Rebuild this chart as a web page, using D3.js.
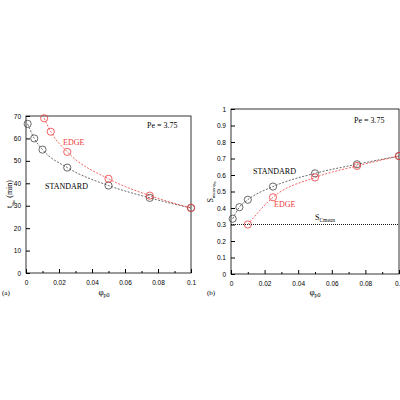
<!DOCTYPE html>
<html><head><meta charset="utf-8">
<script src="https://cdn.jsdelivr.net/npm/d3@7/dist/d3.min.js"></script>
<style>body{margin:0;background:#fff}svg{display:block;font-family:"Liberation Serif","DejaVu Serif",serif}</style>
</head><body><svg id="c" width="400" height="400"></svg>
<script>
// panel (a): t_phi_m (min) vs phi_p0
const aStdX = [0.001, 0.005, 0.01, 0.025, 0.05, 0.075, 0.1];
const aStdY = [66.5, 60, 55, 47, 39, 33.5, 29];
const aEdgeX = [0.011, 0.015, 0.025, 0.05, 0.075, 0.1];
const aEdgeY = [69, 63, 54, 42, 34.5, 29];
// panel (b): S_mean vs phi_p0
const bStdX = [0.001, 0.005, 0.01, 0.025, 0.05, 0.075, 0.1];
const bStdY = [0.335, 0.405, 0.45, 0.53, 0.61, 0.665, 0.715];
const bEdgeX = [0.01, 0.025, 0.05, 0.075, 0.1];
const bEdgeY = [0.3, 0.465, 0.585, 0.655, 0.715];
const sCmean = 0.3;
const xTicks = [0, 0.02, 0.04, 0.06, 0.08, 0.1];
const aYTicks = [0, 10, 20, 30, 40, 50, 60, 70];
const bYTicks = [0, 0.1, 0.2, 0.3, 0.4, 0.5, 0.6, 0.7, 0.8, 0.9, 1];

const svg = d3.select('#c');
const RED = '#f03a3a', GREY = '#444';
const zip = (xs, ys) => xs.map((x, i) => [x, ys[i]]);

function panel(o) {
  const x = d3.scaleLinear().domain([0, 0.1]).range([o.x0, o.x1]);
  const y = d3.scaleLinear().domain(o.yd).range([o.y0, o.y1]);
  const g = svg.append('g');
  g.append('rect').attr('x', o.x0).attr('y', o.y1).attr('width', o.x1 - o.x0).attr('height', o.y0 - o.y1)
    .attr('fill', 'none').attr('stroke', '#000').attr('stroke-width', 0.8);
  const fmt = (v) => String(+v.toFixed(2));
  g.append('g').attr('transform', `translate(0,${o.y0})`)
    .call(d3.axisBottom(x).tickValues(xTicks).tickSize(-4).tickFormat(fmt))
    .call((s) => { s.select('.domain').remove(); s.selectAll('text').attr('font-size', 6.5).attr('dy', 9).attr('font-family', 'inherit'); });
  g.append('g').attr('transform', `translate(0,${o.y0})`)
    .call(d3.axisBottom(x).tickValues(d3.range(0.01, 0.1, 0.02)).tickSize(-2).tickFormat(''))
    .call((s) => s.select('.domain').remove());
  g.append('g').attr('transform', `translate(${o.x0},0)`)
    .call(d3.axisLeft(y).tickValues(o.yt).tickSize(-4).tickFormat(fmt))
    .call((s) => { s.select('.domain').remove(); s.selectAll('text').attr('font-size', 6.5).attr('dx', -2).attr('font-family', 'inherit'); });
  const line = d3.line().x((d) => x(d[0])).y((d) => y(d[1])).curve(d3.curveMonotoneX);
  o.series.forEach((s) => {
    const pts = zip(s.xs, s.ys);
    g.append('path').attr('d', line(pts)).attr('fill', 'none').attr('stroke', s.c)
      .attr('stroke-width', 0.8).attr('stroke-dasharray', '2,1.5');
    g.selectAll(null).data(pts).join('circle').attr('cx', (d) => x(d[0])).attr('cy', (d) => y(d[1]))
      .attr('r', 3.6).attr('fill', 'none').attr('stroke', s.c).attr('stroke-width', 0.8);
  });
  return { x, y, g };
}

const A = panel({ x0: 26, x1: 191, y0: 273, y1: 116, yd: [0, 70], yt: aYTicks,
  series: [{ xs: aStdX, ys: aStdY, c: GREY }, { xs: aEdgeX, ys: aEdgeY, c: RED }] });
A.g.append('text').attr('x', 147).attr('y', 128).attr('font-size', 8).text('Pe = 3.75');
A.g.append('text').attr('x', 63).attr('y', 145).attr('font-size', 8).attr('fill', RED).text('EDGE');
A.g.append('text').attr('x', 45).attr('y', 189).attr('font-size', 8).text('STANDARD');
A.g.append('text').attr('x', 104).attr('y', 295).attr('font-size', 9).attr('text-anchor', 'middle')
  .html('φ<tspan font-size="6" dy="2">p0</tspan>');
A.g.append('text').attr('transform', 'translate(12,194) rotate(-90)').attr('font-size', 8).attr('text-anchor', 'middle')
  .html('t<tspan font-size="5" dy="2">φ</tspan><tspan font-size="4" dy="1">m</tspan><tspan dy="-3"> (min)</tspan>');
A.g.append('text').attr('x', 2).attr('y', 295).attr('font-size', 7).text('(a)');

const B = panel({ x0: 231, x1: 399, y0: 274, y1: 109, yd: [0, 1], yt: bYTicks,
  series: [{ xs: bStdX, ys: bStdY, c: GREY }, { xs: bEdgeX, ys: bEdgeY, c: RED }] });
B.g.append('line').attr('x1', B.x(0)).attr('x2', B.x(0.1)).attr('y1', B.y(sCmean)).attr('y2', B.y(sCmean))
  .attr('stroke', '#000').attr('stroke-width', 0.9).attr('stroke-dasharray', '1,1');
B.g.append('text').attr('x', 354).attr('y', 123).attr('font-size', 8).text('Pe = 3.75');
B.g.append('text').attr('x', 253).attr('y', 174).attr('font-size', 8).text('STANDARD');
B.g.append('text').attr('x', 274).attr('y', 207).attr('font-size', 8).attr('fill', RED).text('EDGE');
B.g.append('text').attr('x', 315).attr('y', 220).attr('font-size', 8)
  .html('S<tspan font-size="5.5" dy="2">Cmean</tspan>');
B.g.append('text').attr('x', 315).attr('y', 295).attr('font-size', 9).attr('text-anchor', 'middle')
  .html('φ<tspan font-size="6" dy="2">p0</tspan>');
B.g.append('text').attr('transform', 'translate(213,192) rotate(-90)').attr('font-size', 8).attr('text-anchor', 'middle')
  .html('S<tspan font-size="4.5" dy="2">mean-φ</tspan><tspan font-size="3.5" dy="1">m</tspan>');
B.g.append('text').attr('x', 207).attr('y', 295).attr('font-size', 7).text('(b)');
</script></body></html>
